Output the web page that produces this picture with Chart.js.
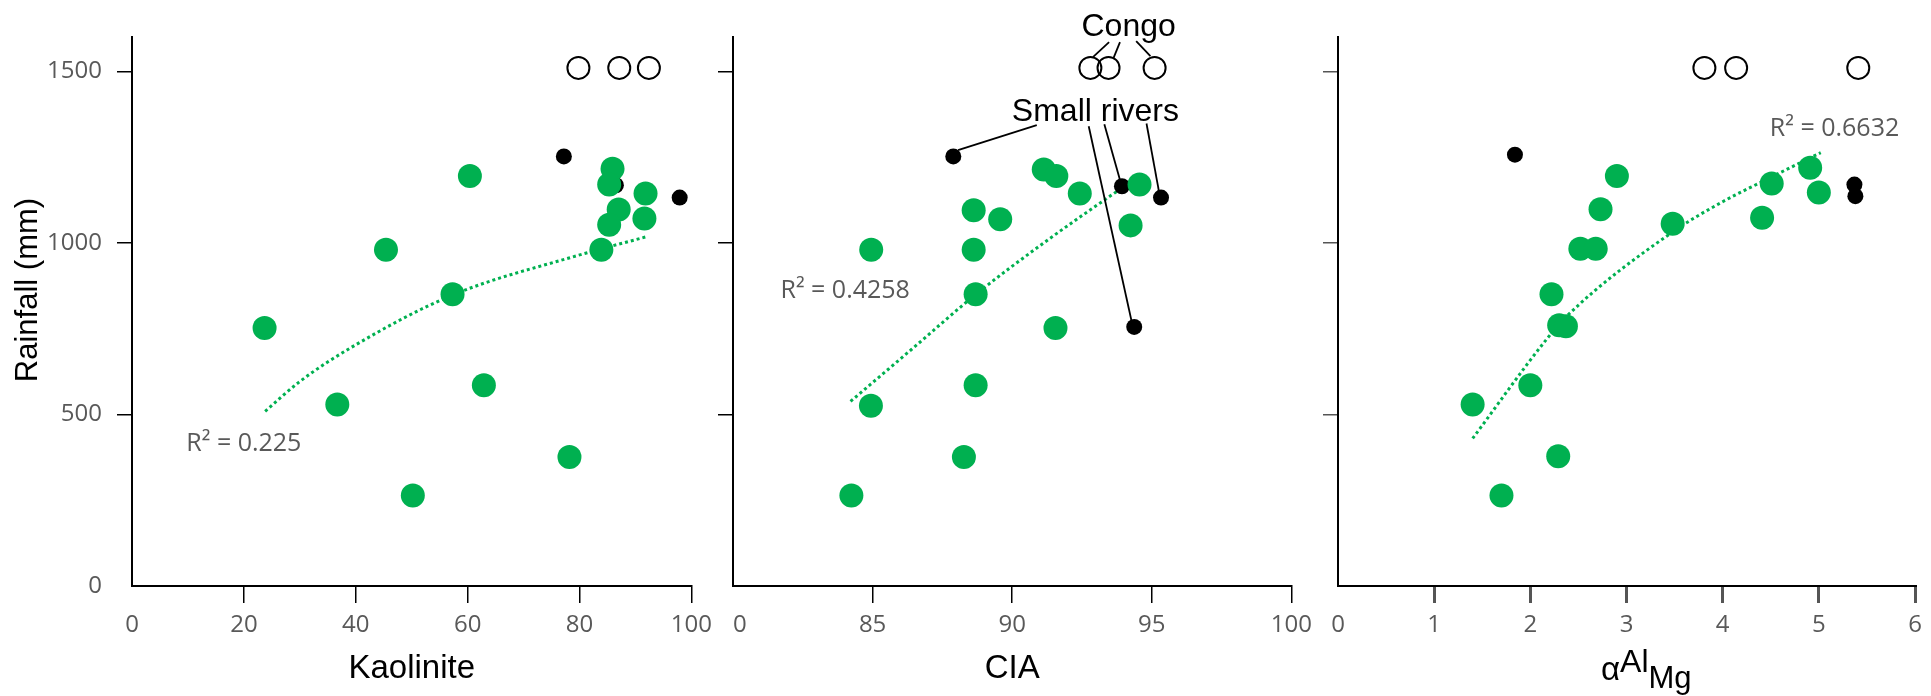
<!DOCTYPE html>
<html>
<head>
<meta charset="utf-8">
<title>Rainfall vs weathering indices</title>
<script src="https://cdn.jsdelivr.net/npm/chart.js@4.4.0/dist/chart.umd.min.js"></script>
<style>
    html, body { margin: 0; padding: 0; background: #fff; }
    #wrap { position: relative; width: 1931px; height: 696px; overflow: hidden; }
    .panel { position: absolute; top: 0; height: 696px; }
    #p1 { left: 0; width: 720px; }
    #p2 { left: 705px; width: 615px; }
    #p3 { left: 1310px; width: 621px; }
</style>
</head>
<body>
<div id="wrap">
    <div class="panel" id="p1"><canvas id="kaolinite-chart"></canvas></div>
    <div class="panel" id="p2"><canvas id="cia-chart"></canvas></div>
    <div class="panel" id="p3"><canvas id="alpha-chart"></canvas></div>
</div>
<script>
// --- data ---
// Kaolinite panel
const kaoX = [23.7, 45.4, 57.3, 60.4, 83.9, 85.9, 85.3, 87.0, 85.3, 91.8, 91.6, 36.7, 62.9, 50.2, 78.2];
const kaoRain = [752, 980, 850, 1195, 980, 1216, 1170, 1097, 1053, 1144, 1071, 529, 585, 264, 376];
const kaoRiversX = [77.2, 86.5, 97.9];
const kaoRiversRain = [1252, 1168, 1132];
const kaoCongoX = [79.8, 87.1, 92.4];
const kaoTrendX = [23.8, 30, 40, 57.3, 79.4, 92.0];
const kaoTrendRain = [509, 596, 703, 848, 962, 1018];

// CIA panel
const ciaX = [91.13, 91.58, 92.42, 88.62, 89.57, 94.24, 94.56, 84.95, 88.62, 88.69, 91.55, 88.69, 84.94, 88.27, 84.24];
const ciaRain = [1214, 1195, 1144, 1095, 1069, 1051, 1170, 980, 980, 850, 752, 585, 525, 376, 264];
const ciaRiversX = [87.89, 93.93, 95.33, 94.37];
const ciaRiversRain = [1252, 1165, 1132, 755];
const ciaCongoX = [92.8, 93.45, 95.1];
const ciaTrendX = [84.21, 86.4, 88.7, 91.3, 94.1];
const ciaTrendRain = [538, 690, 850, 1010, 1170];

// alpha Al/Mg panel
const alphaX = [2.90, 2.73, 2.52, 2.68, 2.22, 2.30, 2.37, 3.48, 4.41, 4.51, 4.91, 5.00, 2.00, 1.40, 2.29, 1.70];
const alphaRain = [1195, 1098, 983, 983, 850, 760, 757, 1056, 1073, 1173, 1219, 1147, 585, 529, 378, 264];
const alphaRiversX = [1.84, 5.37, 5.38];
const alphaRiversRain = [1257, 1170, 1136];
const alphaCongoX = [3.81, 4.14, 5.41];
const alphaTrendX = [1.40, 2.16, 2.37, 3.47, 4.0, 4.4, 5.02];
const alphaTrendRain = [430, 716, 784, 1030, 1120, 1177, 1263];

const congoRain = [1510, 1510, 1510];
const rainTicks = [0, 500, 1000, 1500];

const GREEN = '#00b050';
const GREY = '#595959';
const SANS = "'Liberation Sans', Arial, sans-serif";
const CAL = "'Open Sans', sans-serif";

const pts = (xs, ys) => xs.map((x, i) => ({x: x, y: ys[i]}));
const plain = v => String(v);

// free text / leader lines drawn on top of a panel (data coords unless px given)
function notesPlugin(items) {
    return {
        id: 'notes',
        afterDraw(chart) {
            const {ctx, scales} = chart;
            const X = v => scales.x.getPixelForValue(v);
            const Y = v => scales.y.getPixelForValue(v);
            ctx.save();
            items.forEach(it => {
                if (it.line) {
                    ctx.strokeStyle = '#000';
                    ctx.lineWidth = 1.8;
                    ctx.beginPath();
                    ctx.moveTo(X(it.line[0]), Y(it.line[1]));
                    ctx.lineTo(X(it.line[2]), Y(it.line[3]));
                    ctx.stroke();
                    return;
                }
                const x = it.px ? it.px[0] : X(it.at[0]);
                const y = it.px ? it.px[1] : Y(it.at[1]);
                ctx.save();
                ctx.translate(x, y);
                if (it.rotate) ctx.rotate(-Math.PI / 2);
                ctx.fillStyle = it.color || '#000';
                ctx.textAlign = it.align || 'center';
                ctx.textBaseline = it.baseline || 'alphabetic';
                if (it.parts) {
                    // pieces with their own size and baseline shift (super/subscript)
                    let cx = 0;
                    it.parts.forEach(p => {
                        ctx.font = p.size + 'px ' + SANS;
                        ctx.textAlign = 'left';
                        ctx.fillText(p.t, cx, p.dy);
                        cx += ctx.measureText(p.t).width;
                    });
                } else {
                    ctx.font = it.font;
                    ctx.fillText(it.text, 0, 0);
                }
                ctx.restore();
            });
            ctx.restore();
        }
    };
}

// the "8" of the first CIA label is hidden behind the kaolinite panel in the figure
const hideFirstLabel = {
    id: 'hideFirstLabel',
    afterDraw(chart) {
        const {ctx, chartArea} = chart;
        ctx.save();
        ctx.fillStyle = '#fff';
        ctx.fillRect(chartArea.left - 16, chartArea.bottom + 20, 16.5, 40);
        ctx.restore();
    }
};

function buildPanel(canvasId, cfg) {
    const tickColor = ctx => (ctx.tick && ctx.tick.value === ctx.scale.min) ? 'rgba(0,0,0,0)' : cfg.tickColor;
    return new Chart(document.getElementById(canvasId), {
        type: 'scatter',
        data: {
            datasets: [
                {
                    label: 'Samples',
                    data: pts(cfg.x, cfg.rain),
                    pointRadius: 12,
                    pointHoverRadius: 12,
                    pointBackgroundColor: GREEN,
                    pointBorderWidth: 0
                },
                {
                    label: 'Small rivers',
                    data: pts(cfg.riversX, cfg.riversRain),
                    pointRadius: 8,
                    pointHoverRadius: 8,
                    pointBackgroundColor: '#000',
                    pointBorderWidth: 0
                },
                {
                    label: 'Congo',
                    data: pts(cfg.congoX, congoRain),
                    pointRadius: 11,
                    pointHoverRadius: 11,
                    pointBackgroundColor: 'rgba(0,0,0,0)',
                    pointBorderColor: '#000',
                    pointBorderWidth: 2
                },
                {
                    label: 'Trend',
                    data: pts(cfg.trendX, cfg.trendRain),
                    showLine: true,
                    pointRadius: 0,
                    borderColor: GREEN,
                    borderWidth: 3,
                    borderDash: [3, 3],
                    cubicInterpolationMode: 'monotone'
                }
            ]
        },
        options: {
            responsive: true,
            maintainAspectRatio: false,
            animation: false,
            devicePixelRatio: 1,
            events: [],
            layout: {padding: cfg.padding},
            plugins: {
                legend: {display: false},
                tooltip: {enabled: false}
            },
            scales: {
                x: {
                    type: 'linear',
                    min: cfg.xMin,
                    max: cfg.xMax,
                    afterFit: s => { s.height = 110; },
                    ticks: {
                        stepSize: cfg.xStep,
                        callback: plain,
                        color: GREY,
                        font: {family: CAL, size: 24},
                        padding: 8,
                        maxRotation: 0,
                        autoSkip: false
                    },
                    grid: {drawOnChartArea: false, tickLength: 17, color: tickColor, lineWidth: cfg.tickWidth},
                    border: {color: '#000', width: 2},
                    title: {
                        display: !!cfg.xTitle,
                        text: cfg.xTitle || '',
                        color: '#000',
                        font: {family: SANS, size: 33},
                        padding: {top: 0, bottom: 7}
                    }
                },
                y: {
                    min: 0,
                    max: 1600,
                    afterFit: s => { s.width = cfg.yWidth; },
                    // only the 500 steps get a tick, the axis itself runs on to 1600
                    afterBuildTicks: s => { s.ticks = rainTicks.map(v => ({value: v})); },
                    ticks: {
                        display: cfg.yLabels,
                        callback: plain,
                        color: GREY,
                        font: {family: CAL, size: 24},
                        padding: 15,
                        autoSkip: false
                    },
                    grid: {drawOnChartArea: false, tickLength: 15, color: tickColor, lineWidth: 1.5},
                    border: {color: '#000', width: 2}
                }
            }
        },
        plugins: cfg.plugins
    });
}

buildPanel('kaolinite-chart', {
    x: kaoX, rain: kaoRain,
    riversX: kaoRiversX, riversRain: kaoRiversRain,
    congoX: kaoCongoX,
    trendX: kaoTrendX, trendRain: kaoTrendRain,
    xMin: 0, xMax: 100, xStep: 20, xTitle: 'Kaolinite',
    yLabels: true, yWidth: 132,
    tickColor: '#000', tickWidth: 1.5,
    padding: {left: 0, right: 23, top: 37, bottom: 0},
    plugins: [notesPlugin([
        {px: [28, 290], rotate: true, text: 'Rainfall (mm)', font: '31px ' + SANS, baseline: 'middle'},
        {at: [9.7, 413], text: 'R² = 0.225', font: '25px ' + CAL, color: GREY, align: 'left', baseline: 'middle'}
    ])]
});

buildPanel('cia-chart', {
    x: ciaX, rain: ciaRain,
    riversX: ciaRiversX, riversRain: ciaRiversRain,
    congoX: ciaCongoX,
    trendX: ciaTrendX, trendRain: ciaTrendRain,
    xMin: 80, xMax: 100, xStep: 5, xTitle: 'CIA',
    yLabels: false, yWidth: 15,
    tickColor: '#000', tickWidth: 1.5,
    padding: {left: 13, right: 23, top: 37, bottom: 0},
    plugins: [hideFirstLabel, notesPlugin([
        {at: [81.7, 859], text: 'R² = 0.4258', font: '25px ' + CAL, color: GREY, align: 'left', baseline: 'middle'},
        {at: [94.17, 1604], text: 'Congo', font: '32px ' + SANS},
        {line: [93.47, 1585, 92.9, 1542]},
        {line: [93.86, 1585, 93.62, 1537]},
        {line: [94.44, 1588, 94.95, 1544]},
        {at: [92.98, 1354], text: 'Small rivers', font: '32px ' + SANS},
        {line: [90.88, 1343, 88.06, 1270]},
        {line: [92.74, 1340, 94.28, 770]},
        {line: [93.30, 1346, 93.86, 1183]},
        {line: [94.81, 1348, 95.26, 1148]}
    ])]
});

buildPanel('alpha-chart', {
    x: alphaX, rain: alphaRain,
    riversX: alphaRiversX, riversRain: alphaRiversRain,
    congoX: alphaCongoX,
    trendX: alphaTrendX, trendRain: alphaTrendRain,
    xMin: 0, xMax: 6, xStep: 1, xTitle: '',
    yLabels: false, yWidth: 15,
    tickColor: '#555', tickWidth: 3,
    padding: {left: 13, right: 16, top: 37, bottom: 0},
    plugins: [notesPlugin([
        {at: [4.49, 1331], text: 'R² = 0.6632', font: '25px ' + CAL, color: GREY, align: 'left', baseline: 'middle'},
        {px: [291, 680], parts: [
            {t: 'α', size: 33, dy: 0},
            {t: 'Al', size: 32, dy: -8},
            {t: 'Mg', size: 31, dy: 8}
        ]}
    ])]
});
</script>
</body>
</html>
